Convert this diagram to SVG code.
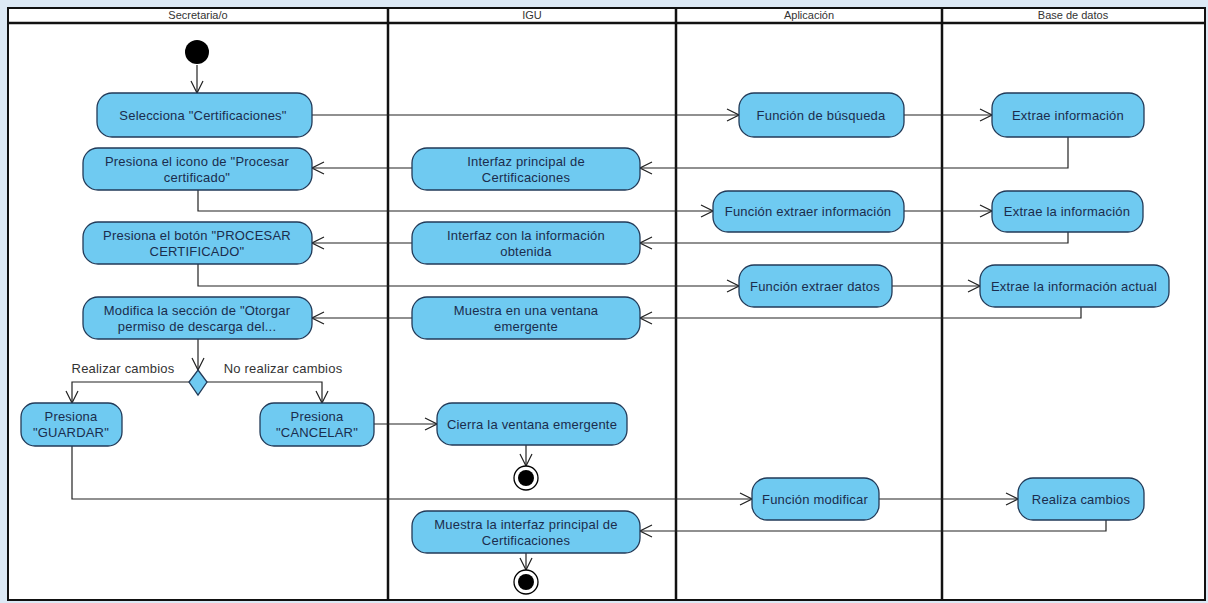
<svg xmlns="http://www.w3.org/2000/svg" width="1208" height="603" viewBox="0 0 1208 603">
<style>
.bg{fill:#dce9f5}
.frame{fill:#ffffff;stroke:#111;stroke-width:2}
.lane{stroke:#111;stroke-width:2.5}
.hdr{font-family:"Liberation Sans",Arial,sans-serif;font-size:11px;fill:#333;text-anchor:middle}
.act{fill:#6fcaf1;stroke:#223a58;stroke-width:1.3}
.t{font-family:"Liberation Sans",Arial,sans-serif;font-size:13px;letter-spacing:0.2px;fill:#1b2d4d;text-anchor:middle}
.lbl{font-family:"Liberation Sans",Arial,sans-serif;font-size:13px;letter-spacing:0.2px;fill:#333;text-anchor:middle}
.c{fill:none;stroke:#222;stroke-width:1.2}
</style>
<defs>
<marker id="arr" markerUnits="userSpaceOnUse" markerWidth="14" markerHeight="14" refX="13" refY="7" orient="auto">
<path d="M1,1 L13,7 L1,13" fill="none" stroke="#222" stroke-width="1.2"/>
</marker>
</defs>
<rect class="bg" x="0" y="0" width="1208" height="603"/>
<g id="frame">
<rect class="frame" x="8" y="8" width="1197" height="592"/>
<line class="lane" x1="8" y1="23" x2="1205" y2="23"/>
<line class="lane" x1="388" y1="8" x2="388" y2="600"/>
<line class="lane" x1="676" y1="8" x2="676" y2="600"/>
<line class="lane" x1="942" y1="8" x2="942" y2="600"/>
<text class="hdr" x="198" y="19">Secretaria/o</text>
<text class="hdr" x="532" y="19">IGU</text>
<text class="hdr" x="809" y="19">Aplicación</text>
<text class="hdr" x="1073" y="19">Base de datos</text>
</g>
<g id="connectors">
<path class="c" d="M197,65 L197,93" marker-end="url(#arr)"/>
<path class="c" d="M312,115 L739,115" marker-end="url(#arr)"/>
<path class="c" d="M904,115 L992,115" marker-end="url(#arr)"/>
<path class="c" d="M1068,137 L1068,168 L640,168" marker-end="url(#arr)"/>
<path class="c" d="M412,168 L312,168" marker-end="url(#arr)"/>
<path class="c" d="M198,190 L198,211 L713,211" marker-end="url(#arr)"/>
<path class="c" d="M904,211 L992,211" marker-end="url(#arr)"/>
<path class="c" d="M1068,232 L1068,243 L640,243" marker-end="url(#arr)"/>
<path class="c" d="M412,243 L312,243" marker-end="url(#arr)"/>
<path class="c" d="M198,264 L198,286 L739,286" marker-end="url(#arr)"/>
<path class="c" d="M892,286 L980,286" marker-end="url(#arr)"/>
<path class="c" d="M1081,307 L1081,318 L640,318" marker-end="url(#arr)"/>
<path class="c" d="M412,318 L312,318" marker-end="url(#arr)"/>
<path class="c" d="M198,339 L198,370" marker-end="url(#arr)"/>
<path class="c" d="M189,382 L72,382 L72,403" marker-end="url(#arr)"/>
<path class="c" d="M207,382 L322,382 L322,403" marker-end="url(#arr)"/>
<path class="c" d="M374,424 L437,424" marker-end="url(#arr)"/>
<path class="c" d="M526,445 L526,466" marker-end="url(#arr)"/>
<path class="c" d="M72,446 L72,499 L752,499" marker-end="url(#arr)"/>
<path class="c" d="M879,499 L1018,499" marker-end="url(#arr)"/>
<path class="c" d="M1106,520 L1106,531 L640,531" marker-end="url(#arr)"/>
<path class="c" d="M526,553 L526,570" marker-end="url(#arr)"/>
<text class="lbl" x="123" y="373">Realizar cambios</text>
<text class="lbl" x="283" y="373">No realizar cambios</text>
</g>
<g id="initial"><circle cx="197" cy="52" r="12" fill="#000"/></g>
<g id="n1"><rect class="act" x="97" y="93" width="215" height="44" rx="15"/><text class="t" x="203" y="120">Selecciona "Certificaciones"</text></g>
<g id="n2"><rect class="act" x="739" y="93" width="165" height="44" rx="15"/><text class="t" x="821" y="120">Función de búsqueda</text></g>
<g id="n3"><rect class="act" x="992" y="93" width="152" height="44" rx="15"/><text class="t" x="1068" y="120">Extrae información</text></g>
<g id="n4"><rect class="act" x="412" y="148" width="228" height="42" rx="15"/><text class="t" x="526" y="166">Interfaz principal de</text><text class="t" x="526" y="182">Certificaciones</text></g>
<g id="n5"><rect class="act" x="83" y="148" width="229" height="42" rx="15"/><text class="t" x="197" y="166">Presiona el icono de "Procesar</text><text class="t" x="197" y="182">certificado"</text></g>
<g id="n6"><rect class="act" x="713" y="191" width="191" height="41" rx="15"/><text class="t" x="808" y="216">Función extraer información</text></g>
<g id="n7"><rect class="act" x="992" y="191" width="151" height="41" rx="15"/><text class="t" x="1067" y="216">Extrae la información</text></g>
<g id="n8"><rect class="act" x="412" y="222" width="228" height="42" rx="15"/><text class="t" x="526" y="240">Interfaz con la información</text><text class="t" x="526" y="256">obtenida</text></g>
<g id="n9"><rect class="act" x="83" y="222" width="229" height="42" rx="15"/><text class="t" x="197" y="240">Presiona el botón "PROCESAR</text><text class="t" x="197" y="256">CERTIFICADO"</text></g>
<g id="n10"><rect class="act" x="739" y="265" width="153" height="42" rx="15"/><text class="t" x="815" y="291">Función extraer datos</text></g>
<g id="n11"><rect class="act" x="980" y="265" width="189" height="42" rx="15"/><text class="t" x="1074" y="291">Extrae la información actual</text></g>
<g id="n12"><rect class="act" x="412" y="297" width="228" height="42" rx="15"/><text class="t" x="526" y="315">Muestra en una ventana</text><text class="t" x="526" y="331">emergente</text></g>
<g id="n13"><rect class="act" x="83" y="297" width="229" height="42" rx="15"/><text class="t" x="197" y="315">Modifica la sección de "Otorgar</text><text class="t" x="197" y="331">permiso de descarga del...</text></g>
<g id="decision"><path d="M198,370 L207,382 L198,395 L189,382 Z" class="act"/></g>
<g id="n14"><rect class="act" x="21" y="403" width="101" height="43" rx="14"/><text class="t" x="71" y="421">Presiona</text><text class="t" x="71" y="437">"GUARDAR"</text></g>
<g id="n15"><rect class="act" x="260" y="403" width="114" height="43" rx="14"/><text class="t" x="317" y="421">Presiona</text><text class="t" x="317" y="437">"CANCELAR"</text></g>
<g id="n16"><rect class="act" x="437" y="403" width="190" height="42" rx="15"/><text class="t" x="532" y="429">Cierra la ventana emergente</text></g>
<g id="final1"><circle cx="526" cy="478" r="12" fill="#fff" stroke="#000" stroke-width="1.3"/><circle cx="526" cy="478" r="8" fill="#000"/></g>
<g id="n17"><rect class="act" x="752" y="478" width="127" height="42" rx="15"/><text class="t" x="815" y="504">Función modificar</text></g>
<g id="n18"><rect class="act" x="1018" y="478" width="126" height="42" rx="15"/><text class="t" x="1081" y="504">Realiza cambios</text></g>
<g id="n19"><rect class="act" x="412" y="511" width="228" height="42" rx="15"/><text class="t" x="526" y="529">Muestra la interfaz principal de</text><text class="t" x="526" y="545">Certificaciones</text></g>
<g id="final2"><circle cx="526" cy="582" r="12" fill="#fff" stroke="#000" stroke-width="1.3"/><circle cx="526" cy="582" r="8" fill="#000"/></g>
</svg>
